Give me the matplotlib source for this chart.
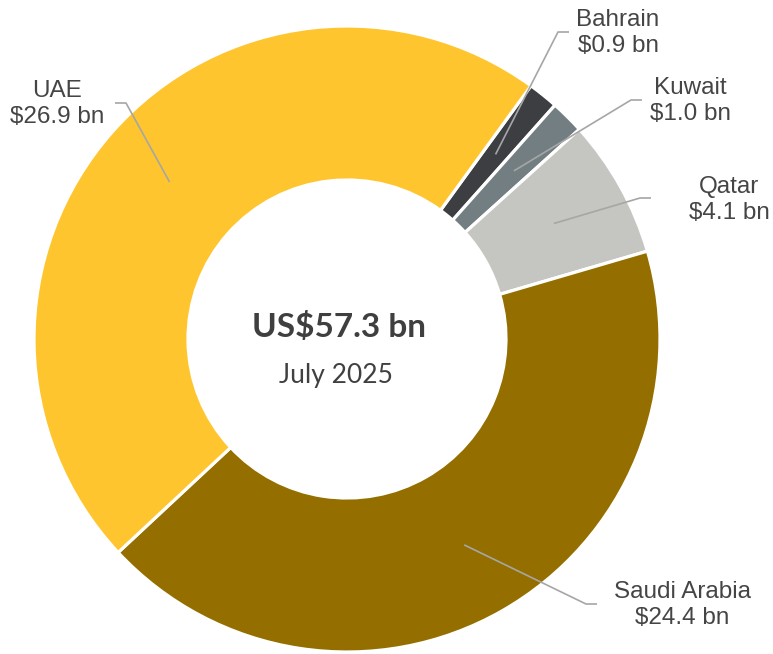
import numpy as np
import matplotlib
matplotlib.use("Agg")
import matplotlib.pyplot as plt

# ---- data ----
countries = ["Bahrain", "Kuwait", "Qatar", "Saudi Arabia", "UAE"]
values = [0.9, 1.0, 4.1, 24.4, 26.9]
value_labels = ["$0.9 bn", "$1.0 bn", "$4.1 bn", "$24.4 bn", "$26.9 bn"]
colors = ["#3C3E41", "#737E82", "#C5C6C1", "#946F00", "#FFC52E"]
total_label = "US$57.3 bn"
date_label = "July 2025"

W, H = 773, 654
fig = plt.figure(figsize=(W / 100, H / 100), dpi=100)
ax = fig.add_axes([0, 0, 1, 1])

cx, cy = 347, H - 339
R = 313
start = 54.0

wedges, _ = ax.pie(values, colors=colors, startangle=start, counterclock=False,
                   center=(cx, cy), radius=R, frame=True,
                   wedgeprops=dict(width=R * 0.492, edgecolor="white", linewidth=2.3))
ax.set_xlim(0, W)
ax.set_ylim(0, H)
ax.set_aspect("equal")
ax.axis("off")

# label layout: elbow point (pixel, y down), side, text centre x, text centre y
layout = {
    "Bahrain": (558, 32, 1, 618, 33),
    "Kuwait": (631, 100, 1, 690, 101),
    "Qatar": (640, 198, 1, 729, 200),
    "Saudi Arabia": (586, 604, 1, 682, 605),
    "UAE": (126, 103, -1, 57, 104),
}
line_col = "#A6A6A6"
txt_col = "#454545"
for w, name, vl in zip(wedges, countries, value_labels):
    ang = np.deg2rad((w.theta1 + w.theta2) / 2)
    ax_, ay_ = cx + 0.757 * R * np.cos(ang), cy + 0.757 * R * np.sin(ang)
    ex, ey, side, tx, ty = layout[name]
    ey = H - ey
    hx = ex + side * 11
    ax.plot([ax_, ex, hx], [ay_, ey, ey], color=line_col, lw=1.2, solid_capstyle="butt")
    ax.text(tx, H - ty, f"{name}\n{vl}", ha="center", va="center",
            multialignment="center", fontsize=17.5, family="Liberation Sans",
            color=txt_col, linespacing=1.2)

ax.text(339, H - 327, total_label, ha="center", va="center", fontsize=24,
        fontweight="bold", family="Lato", color="#3F3F3F")
ax.text(336, H - 376, date_label, ha="center", va="center", fontsize=19,
        family="Lato", color="#404040")

fig.savefig("out.png", dpi=100)
